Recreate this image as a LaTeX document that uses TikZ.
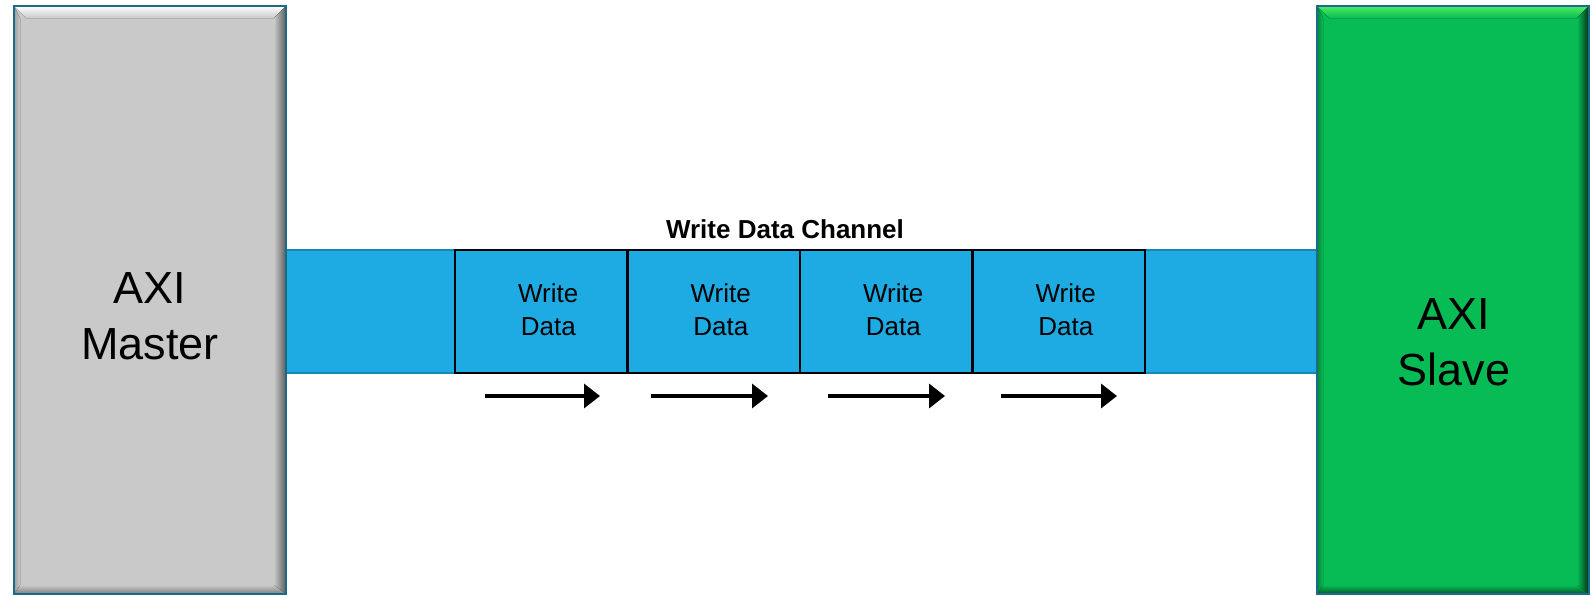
\documentclass[tikz,border=0pt]{standalone}
\usepackage{fontspec}
\setmainfont{Liberation Sans}
\usetikzlibrary{arrows.meta}
\definecolor{mgray}{HTML}{C9C9C9}
\definecolor{sgreen}{HTML}{07BC55}
\definecolor{bandblue}{HTML}{1EABE3}
\definecolor{bandedge}{HTML}{1A86B6}
\definecolor{boxedge}{HTML}{1B6A8A}
\tikzset{
  bigbox/.style={minimum width=272pt, minimum height=588pt, inner sep=0pt, outer sep=0pt, align=center,
    font=\fontsize{45}{56}\selectfont},
  databox/.style={draw=black, line width=2.5pt, minimum width=172.5pt, minimum height=123pt, inner sep=0pt, outer sep=0pt},
  datatext/.style={align=center, font=\fontsize{26}{33}\selectfont},
  flow/.style={line width=3.5pt, -{Triangle[length=16pt,width=24pt]}},
}
\newcommand{\mybevel}[4]{% node, fill, light, dark
  \fill[top color=#3, bottom color=#2] (#1.north west) -- (#1.north east) -- ([shift={(-12pt,-12pt)}]#1.north east) -- ([shift={(12pt,-12pt)}]#1.north west) -- cycle;
  \fill[left color=#2, right color=#4] (#1.north east) -- (#1.south east) -- ([shift={(-12pt,9pt)}]#1.south east) -- ([shift={(-12pt,-12pt)}]#1.north east) -- cycle;
  \fill[top color=#2, bottom color=#4!70!#2] (#1.south west) -- (#1.south east) -- ([shift={(-12pt,9pt)}]#1.south east) -- ([shift={(6pt,9pt)}]#1.south west) -- cycle;
  \fill[left color=#4!40!#2, right color=#2] (#1.north west) -- ([shift={(6pt,-12pt)}]#1.north west) -- ([shift={(6pt,9pt)}]#1.south west) -- (#1.south west) -- cycle;
  \draw[boxedge, line width=2pt] (#1.north west) rectangle (#1.south east);
}
\begin{document}
\begin{tikzpicture}[x=1pt,y=-1pt]
\useasboundingbox (0,0) rectangle (1596,595);
% channel band
\node[fill=bandblue, draw=bandedge, line width=2pt, outer sep=0pt, minimum width=1035pt, minimum height=123pt, inner sep=0pt, anchor=north west] (band) at (283,250) {};
% data boxes
\node[databox, anchor=north west] (d1) at (455,250) {};
\node[databox, anchor=west] (d2) at (d1.east) {};
\node[databox, anchor=west] (d3) at (d2.east) {};
\node[databox, anchor=west] (d4) at (d3.east) {};
\foreach \i in {1,2,3,4}{
  \node[datatext] (t\i) at ([xshift=7pt,yshift=2pt]d\i.center) {Write\\Data};
}
\node[font=\bfseries\fontsize{26}{30}\selectfont] (title) at (785,229) {Write Data Channel};
% master and slave
\node[bigbox, fill=mgray] (master) at (150,300) {};
\mybevel{master}{mgray}{white}{black!55!mgray}
\node[bigbox] (mtext) at (150,316) {AXI\\Master};
\node[bigbox, fill=sgreen] (slave) at (1453,300) {};
\mybevel{slave}{sgreen}{green!60!sgreen!70!white}{black!75!sgreen}
\node[bigbox] (stext) at (1454,342) {AXI\\Slave};
% arrows
\foreach \i/\xa/\xb in {1/485/600, 2/651/768, 3/828/945, 4/1001/1117}{
  \coordinate (a\i s) at (\xa,396);
  \coordinate (a\i e) at (\xb,396);
  \draw[flow] (a\i s) -- (a\i e);
}
\end{tikzpicture}
\end{document}
